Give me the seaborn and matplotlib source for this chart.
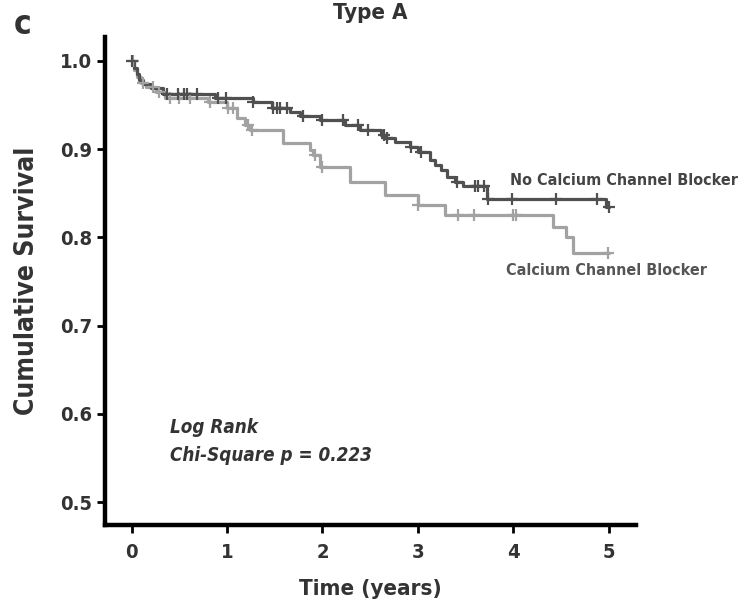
import numpy as np
import pandas as pd
import matplotlib
matplotlib.use("Agg")
import matplotlib.pyplot as plt
import seaborn as sns

# ---- data ----
# No Calcium Channel Blocker: step function (time, survival)
noccb_t = [0.0, 0.02, 0.05, 0.08, 0.12, 0.20, 0.33, 0.87, 1.27, 1.47, 1.66, 1.76, 1.97,
           2.24, 2.39, 2.61, 2.66, 2.76, 2.92, 3.00, 3.13, 3.18, 3.24, 3.31, 3.39, 3.47,
           3.73, 4.97, 5.00]
noccb_s = [1.000, 0.992, 0.985, 0.978, 0.974, 0.969, 0.963, 0.958, 0.953, 0.947, 0.942, 0.937, 0.933,
           0.927, 0.922, 0.916, 0.913, 0.908, 0.902, 0.897, 0.888, 0.882, 0.876, 0.868, 0.863, 0.858,
           0.844, 0.834, 0.834]
noccb_cens = [0.0, 0.37, 0.48, 0.55, 0.58, 0.68, 0.90, 0.99, 1.27, 1.48, 1.52, 1.55, 1.63,
              1.80, 2.0, 2.22, 2.37, 2.48, 2.64, 2.68, 2.93, 3.03, 3.41, 3.60, 3.63, 3.69,
              3.74, 3.99, 4.45, 4.88, 5.00]

# Calcium Channel Blocker
ccb_t = [0.0, 0.02, 0.05, 0.10, 0.15, 0.25, 0.35, 0.80, 1.00, 1.10, 1.19, 1.24, 1.59,
         1.87, 1.90, 1.97, 2.29, 2.66, 3.00, 3.29, 4.42, 4.55, 4.63, 5.00]
ccb_s = [1.000, 0.990, 0.982, 0.975, 0.970, 0.965, 0.958, 0.953, 0.947, 0.935, 0.927, 0.922, 0.907,
         0.899, 0.893, 0.880, 0.863, 0.848, 0.837, 0.825, 0.812, 0.800, 0.782, 0.782]
ccb_cens = [0.01, 0.12, 0.22, 0.29, 0.40, 0.50, 0.61, 0.82, 1.01, 1.06, 1.22, 1.26, 1.92,
            2.00, 3.00, 3.42, 3.59, 4.00, 4.03, 4.99]

xticks = [0, 1, 2, 3, 4, 5]
yticks = [0.5, 0.6, 0.7, 0.8, 0.9, 1.0]

DARK = "#505050"
LIGHT = "#a2a2a2"
TXT = "#333333"

sns.set_style("ticks")
plt.rcParams["font.family"] = ["DejaVu Sans"]
plt.rcParams["font.stretch"] = "condensed"
plt.rcParams["font.weight"] = "bold"

fig = plt.figure(figsize=(7.45, 6.07), dpi=100)
ax = fig.add_axes([0.141, 0.135, 0.713, 0.804])

def step_val(ts, ss, c):
    idx = np.searchsorted(np.array(ts), np.array(c), side="right") - 1
    return np.array(ss)[idx]

df_no = pd.DataFrame({"t": noccb_t, "s": noccb_s})
df_cb = pd.DataFrame({"t": ccb_t, "s": ccb_s})

sns.lineplot(data=df_cb, x="t", y="s", ax=ax, color=LIGHT, lw=2.3, drawstyle="steps-post",
             estimator=None, sort=False)
sns.lineplot(data=df_no, x="t", y="s", ax=ax, color=DARK, lw=2.3, drawstyle="steps-post",
             estimator=None, sort=False)

cb_c = pd.DataFrame({"t": ccb_cens, "s": step_val(ccb_t, ccb_s, ccb_cens)})
no_c = pd.DataFrame({"t": noccb_cens, "s": step_val(noccb_t, noccb_s, noccb_cens)})
ax.plot(cb_c["t"], cb_c["s"], ls="none", marker="+", ms=9, mew=1.6, color=LIGHT)
ax.plot(no_c["t"], no_c["s"], ls="none", marker="+", ms=9, mew=1.6, color=DARK)

ax.set_xlim(-0.28, 5.29)
ax.set_ylim(0.474, 1.027)
ax.set_xticks(xticks)
ax.set_xticklabels([str(v) for v in xticks])
ax.set_yticks(yticks)
ax.set_yticklabels([f"{v:.1f}" for v in yticks])
sns.despine(ax=ax)
for sp in ["left", "bottom"]:
    ax.spines[sp].set_linewidth(3.2)
    ax.spines[sp].set_color("black")
ax.tick_params(axis="both", length=6, width=2, color="black", labelsize=14.5,
               labelcolor=TXT, pad=3)
ax.tick_params(axis="x", pad=7)
for lab in ax.get_xticklabels() + ax.get_yticklabels():
    lab.set_fontweight("bold")

ax.set_xlabel("Time (years)", fontsize=16, fontweight="bold", color=TXT, labelpad=12)
ax.set_ylabel("Cumulative Survival", fontsize=19, fontweight="bold", color=TXT, labelpad=15)
ax.set_title("Type A", fontsize=16, fontweight="bold", color=TXT, pad=13)

fig.text(0.018, 0.959, "c", fontsize=24, fontweight="bold", color=TXT, va="center")

ax.text(3.97, 0.864, "No Calcium Channel Blocker", fontsize=11.5, fontweight="bold",
        color="#444444", ha="left", va="center")
ax.text(3.92, 0.763, "Calcium Channel Blocker", fontsize=11.5, fontweight="bold",
        color="#555555", ha="left", va="center")
ax.text(0.4, 0.585, "Log Rank", fontsize=13.5, fontweight="bold", style="italic",
        color=TXT, ha="left", va="center")
ax.text(0.4, 0.553, "Chi-Square p = 0.223", fontsize=13.5, fontweight="bold", style="italic",
        color=TXT, ha="left", va="center")

fig.savefig("out.png", dpi=100)
